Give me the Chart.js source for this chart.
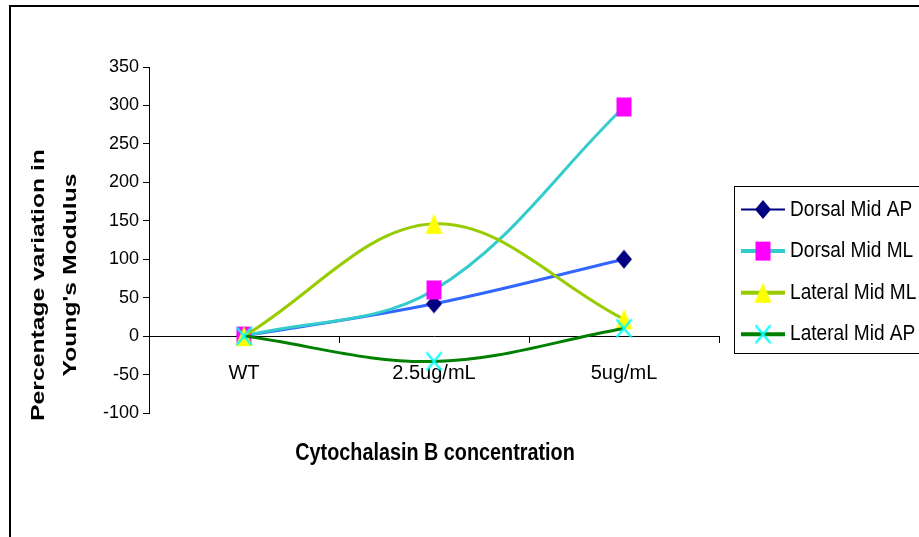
<!DOCTYPE html>
<html>
<head>
<meta charset="utf-8">
<title>Young's Modulus variation vs Cytochalasin B</title>
<script src="https://cdn.jsdelivr.net/npm/chart.js@4/dist/chart.umd.min.js"></script>
<style>
  html, body { margin: 0; padding: 0; background: #ffffff; }
  #wrap { width: 919px; height: 537px; position: relative; overflow: hidden; }
  canvas { display: block; }
</style>
</head>
<body>
<div id="wrap"><canvas id="c" width="919" height="537"></canvas></div>
<script>
// Categories (x axis) and series values (% variation in Young's modulus)
const categories = ['WT', '2.5ug/mL', '5ug/mL'];
const dorsalMidAP = [0, 42, 100];
const dorsalMidML = [0, 60, 298];
const lateralMidML = [0, 146, 22];
const lateralMidAP = [0, -33, 10];
const seriesNames = ['Dorsal Mid AP', 'Dorsal Mid ML', 'Lateral Mid ML', 'Lateral Mid AP'];

// y axis range
const yMin = -100;
const yMax = 350;
const yStep = 50;

const FONT = '"Liberation Sans", Arial, sans-serif';

// Marker images (slightly taller than wide)
function marker(kind, w, h, color) {
  const c = document.createElement('canvas');
  c.width = w + 2;
  c.height = h + 2;
  const g = c.getContext('2d');
  const cx = c.width / 2, cy = c.height / 2;
  g.fillStyle = color;
  g.strokeStyle = color;
  if (kind === 'diamond') {
    g.beginPath();
    g.moveTo(cx, cy - h / 2);
    g.lineTo(cx + w / 2, cy);
    g.lineTo(cx, cy + h / 2);
    g.lineTo(cx - w / 2, cy);
    g.closePath();
    g.fill();
  } else if (kind === 'square') {
    g.fillRect(cx - w / 2, cy - h / 2, w, h);
  } else if (kind === 'triangle') {
    g.beginPath();
    g.moveTo(cx, cy - h / 2);
    g.lineTo(cx + w / 2, cy + h / 2);
    g.lineTo(cx - w / 2, cy + h / 2);
    g.closePath();
    g.fill();
  } else if (kind === 'cross') {
    g.lineWidth = 2;
    g.beginPath();
    g.moveTo(cx - w / 2, cy - h / 2);
    g.lineTo(cx + w / 2, cy + h / 2);
    g.moveTo(cx + w / 2, cy - h / 2);
    g.lineTo(cx - w / 2, cy + h / 2);
    g.stroke();
  }
  return c;
}

const markers = [
  marker('diamond', 16, 19, '#000080'),
  marker('square', 15, 19, '#ff00ff'),
  marker('triangle', 17, 20, '#ffff00'),
  marker('cross', 15, 18, '#00ffff')
];
const lineColors = ['#3366ff', '#33cccc', '#99cc00', '#008000'];
const legendLineColors = ['#000080', '#33cccc', '#99cc00', '#008000'];
const legendLineWidths = [2, 4, 4, 4];

function series(i, values) {
  return {
    label: seriesNames[i],
    data: values,
    borderColor: lineColors[i],
    backgroundColor: lineColors[i],
    borderWidth: 3,
    tension: 0.36,
    fill: false,
    pointStyle: markers[i],
    pointRadius: 8,
    pointHoverRadius: 8,
    order: 4 - i
  };
}

// Outer frame and white background
const framePlugin = {
  id: 'frame',
  beforeDraw(chart) {
    const ctx = chart.ctx;
    ctx.save();
    ctx.fillStyle = '#ffffff';
    ctx.fillRect(0, 0, chart.width, chart.height);
    ctx.strokeStyle = '#000000';
    ctx.lineWidth = 2;
    ctx.strokeRect(10, 6, 1000, 1000);
    ctx.restore();
  }
};

// Axis titles drawn beside the plot
const titlesPlugin = {
  id: 'axisTitles',
  afterDraw(chart) {
    const ctx = chart.ctx;
    const area = chart.chartArea;
    ctx.save();
    ctx.fillStyle = '#000000';
    ctx.textAlign = 'center';
    ctx.textBaseline = 'middle';
    ctx.font = 'bold 19px ' + FONT;
    const yLines = ['Percentage variation in', "Young's Modulus"];
    const yPos = [[39, 285], [71, 275]];
    yLines.forEach((t, i) => {
      ctx.save();
      ctx.translate(yPos[i][0], yPos[i][1]);
      ctx.rotate(-Math.PI / 2);
      ctx.scale(1.3, 1);
      ctx.fillText(t, 0, 0);
      ctx.restore();
    });
    ctx.save();
    ctx.font = 'bold 20px ' + FONT;
    ctx.translate((area.left + area.right) / 2 + 1, 454);
    ctx.scale(0.99, 1.15);
    ctx.fillText('Cytochalasin B concentration', 0, 0);
    ctx.restore();
    ctx.restore();
  }
};

// Boxed legend on the right
const legendPlugin = {
  id: 'boxLegend',
  afterDraw(chart) {
    const ctx = chart.ctx;
    ctx.save();
    ctx.strokeStyle = '#000000';
    ctx.lineWidth = 1;
    ctx.strokeRect(734.5, 186.5, 300, 167);
    chart.data.datasets.forEach((ds, i) => {
      const y = 209.5 + i * 41.6;
      ctx.strokeStyle = legendLineColors[i];
      ctx.lineWidth = legendLineWidths[i];
      ctx.beginPath();
      ctx.moveTo(741, y);
      ctx.lineTo(785, y);
      ctx.stroke();
      const m = ds.pointStyle;
      ctx.drawImage(m, 763 - m.width / 2, y - m.height / 2);
      ctx.save();
      ctx.fillStyle = '#000000';
      ctx.font = '19.5px ' + FONT;
      ctx.textAlign = 'left';
      ctx.textBaseline = 'middle';
      ctx.translate(790, y);
      ctx.scale(0.98, 1.15);
      ctx.fillText(ds.label, 0, 0);
      ctx.restore();
    });
    ctx.restore();
  }
};

new Chart(document.getElementById('c'), {
  type: 'line',
  data: {
    labels: categories,
    datasets: [
      series(0, dorsalMidAP),
      series(1, dorsalMidML),
      series(2, lateralMidML),
      series(3, lateralMidAP)
    ]
  },
  options: {
    responsive: false,
    animation: false,
    devicePixelRatio: 1,
    layout: { padding: { left: 10, top: 67, right: 200, bottom: 124 } },
    plugins: {
      legend: { display: false },
      tooltip: { enabled: false },
      title: { display: false }
    },
    scales: {
      x: {
        type: 'category',
        position: { y: 0 },
        offset: true,
        afterFit(scale) { scale.height = 0; },
        grid: {
          display: true,
          offset: true,
          drawOnChartArea: false,
          drawTicks: true,
          tickLength: 6,
          color: '#000000',
          lineWidth: 1
        },
        border: { display: true, color: '#000000', width: 1 },
        ticks: {
          color: '#000000',
          font: { family: FONT, size: 20 },
          padding: 19,
          maxRotation: 0,
          autoSkip: false
        }
      },
      y: {
        min: yMin,
        max: yMax,
        afterFit(scale) { scale.width = 139; },
        grid: {
          display: true,
          drawOnChartArea: false,
          drawTicks: true,
          tickLength: 6,
          color: '#000000',
          lineWidth: 1
        },
        border: { display: true, color: '#000000', width: 1 },
        ticks: {
          stepSize: yStep,
          color: '#000000',
          font: { family: FONT, size: 18 },
          padding: 4
        }
      }
    }
  },
  plugins: [framePlugin, titlesPlugin, legendPlugin]
});
</script>
</body>
</html>
